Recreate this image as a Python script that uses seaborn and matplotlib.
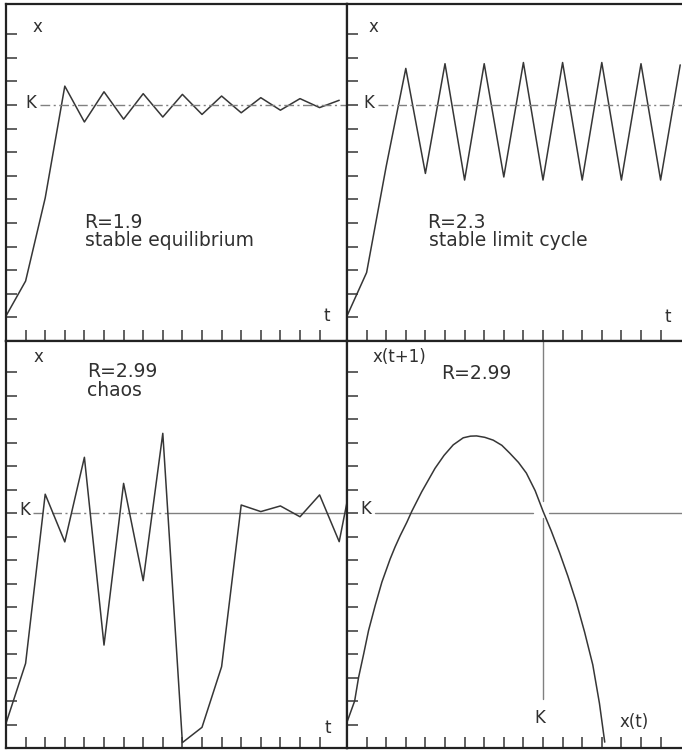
import matplotlib
matplotlib.use("Agg")
import matplotlib.pyplot as plt
import seaborn as sns

# -- data --
K = 10

t_eq = list(range(18))
x_eq = [1.06, 2.54, 6.06, 10.8, 9.28, 10.56, 9.4, 10.48, 9.49, 10.45,
        9.6, 10.38, 9.67, 10.31, 9.78, 10.27, 9.89, 10.2]

t_cyc = list(range(18))
x_cyc = [1.06, 2.9, 7.4, 11.55, 7.1, 11.75, 6.82, 11.75, 6.95, 11.8,
         6.82, 11.8, 6.82, 11.8, 6.82, 11.75, 6.82, 11.7]

t_chaos = list(range(19))
x_chaos = [1.05, 3.6, 10.8, 8.77, 12.37, 4.38, 11.26, 7.12, 13.39, 0.23,
           0.88, 3.46, 10.34, 10.06, 10.3, 9.84, 10.77, 8.78, 13.0]

# return map x(t) -> x(t+1)
map_xt = [0.0, 0.39, 0.59, 0.85, 1.10, 1.44, 1.78, 2.2, 2.45, 2.71, 3.05,
          3.31, 3.81, 4.15, 4.49, 4.95, 5.42, 5.93, 6.3, 6.61, 7.03, 7.46,
          7.9, 8.3, 8.75, 9.15, 9.6, 10.0, 10.42, 10.85, 11.27, 11.7, 12.12,
          12.54, 12.88, 13.15]
map_xt1 = [1.1, 2.0, 3.0, 4.0, 5.0, 6.07, 7.06, 8.04, 8.55, 9.03, 9.6,
           10.08, 10.9, 11.4, 11.9, 12.45, 12.9, 13.2, 13.27, 13.28, 13.22,
           13.1, 12.88, 12.55, 12.15, 11.7, 10.95, 10.08, 9.24, 8.3, 7.31,
           6.2, 4.94, 3.54, 1.9, 0.25]

# -- 样式 --
sns.set_theme(style="white")
plt.rcParams['font.family'] = ['DejaVu Sans']

LINE = '#363636'
REF = '#808080'
INK = '#303030'
DASHDOT = (0, (7, 2.5, 1.5, 2.5))

W, H = 682, 750
fig = plt.figure(figsize=(W / 100, H / 100), dpi=100)
fig.patch.set_facecolor('white')


def panel(x0, y0, x1, y1, xmax, ymax, right_spine=True):
    # x0..y1 in pixels from top-left corner
    ax = fig.add_axes([x0 / W, 1 - y1 / H, (x1 - x0) / W, (y1 - y0) / H])
    ax.set_facecolor('white')
    ax.set_xlim(0, xmax)
    ax.set_ylim(0, ymax)
    ax.set_xticks(range(1, 17))
    ax.set_yticks(range(1, int(ymax - 0.9) + 1))
    ax.tick_params(direction='in', length=8, width=1.1, color=LINE,
                   labelbottom=False, labelleft=False, bottom=True, left=True)
    for name, sp in ax.spines.items():
        sp.set_color('#222222')
        sp.set_linewidth(1.6)
    ax.spines['right'].set_visible(right_spine)
    return ax


ax1 = panel(6, 4, 347, 341, 341 / 19.6, 337 / 23.6)
ax2 = panel(347, 4, 682, 341, 335 / 19.6, 337 / 23.6, right_spine=False)
ax3 = panel(6, 341, 347, 748, 341 / 19.6, 407 / 23.5)
ax4 = panel(347, 341, 682, 748, 335 / 19.6, 407 / 23.5, right_spine=False)
ax1.set_yticks(range(1, 14))
ax2.set_yticks(range(1, 14))

txt = dict(color=INK, fontsize=12)
big = dict(color=INK, fontsize=13.5)

# top left: stable equilibrium
sns.lineplot(x=t_eq, y=x_eq, ax=ax1, color=LINE, lw=1.1)
ax1.plot([1.75, 20], [K, K], color=REF, lw=1.0, ls=DASHDOT)
ax1.text(1.63, 13.3, 'x', ha='center', va='center', **txt)
ax1.text(1.28, 10.08, 'K', ha='center', va='center', **txt)
ax1.text(4.0, 5.0, 'R=1.9', ha='left', va='center', **big)
ax1.text(4.05, 4.27, 'stable equilibrium', ha='left', va='center', **big)
ax1.text(16.38, 1.05, 't', ha='center', va='center', **txt)

# top right: stable limit cycle
sns.lineplot(x=t_cyc, y=x_cyc, ax=ax2, color=LINE, lw=1.1)
ax2.plot([1.6, 20], [K, K], color=REF, lw=1.0, ls=DASHDOT)
ax2.text(1.33, 13.3, 'x', ha='center', va='center', **txt)
ax2.text(1.12, 10.08, 'K', ha='center', va='center', **txt)
ax2.text(4.1, 5.0, 'R=2.3', ha='left', va='center', **big)
ax2.text(4.2, 4.27, 'stable limit cycle', ha='left', va='center', **big)
ax2.text(16.38, 1.0, 't', ha='center', va='center', **txt)

# bottom left: chaos
ax3.plot([1.4, 8.3], [K, K], color=REF, lw=1.0, ls=DASHDOT)
ax3.plot([8.3, 20], [K, K], color=REF, lw=1.0)
sns.lineplot(x=t_chaos, y=x_chaos, ax=ax3, color=LINE, lw=1.1)
ax3.text(1.68, 16.64, 'x', ha='center', va='center', **txt)
ax3.text(4.15, 16.0, 'R=2.99', ha='left', va='center', **big)
ax3.text(4.15, 15.23, 'chaos', ha='left', va='center', **big)
ax3.text(0.97, 10.13, 'K', ha='center', va='center', **txt)
ax3.text(16.43, 0.85, 't', ha='center', va='center', **txt)

# bottom right: return map
ax4.plot([1.45, 9.5], [K, K], color=REF, lw=1.0)
ax4.plot([10.3, 20], [K, K], color=REF, lw=1.0)
ax4.plot([K, K], [2.1, 9.8], color=REF, lw=1.0)
ax4.plot([K, K], [10.5, 20], color=REF, lw=1.0)
sns.lineplot(x=map_xt, y=map_xt1, ax=ax4, color=LINE, lw=1.1,
             sort=False, estimator=None)
ax4.text(1.3, 16.64, 'x(t+1)', ha='left', va='center', **txt)
ax4.text(4.8, 15.95, 'R=2.99', ha='left', va='center', **big)
ax4.text(0.97, 10.17, 'K', ha='center', va='center', **txt)
ax4.text(9.85, 1.28, 'K', ha='center', va='center', **txt)
ax4.text(14.64, 1.1, 'x(t)', ha='center', va='center', **txt)

for ax in (ax1, ax2, ax3, ax4):
    ax.set_xlabel('')
    ax.set_ylabel('')

fig.savefig('out.png', dpi=100)
